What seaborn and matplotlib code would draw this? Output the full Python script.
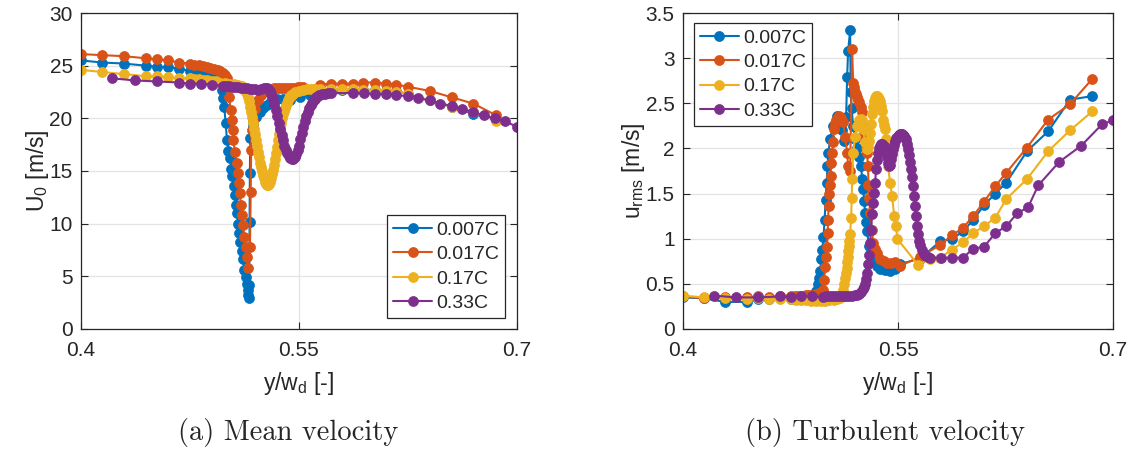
import matplotlib

matplotlib.use("Agg")
import matplotlib.font_manager as fm
import matplotlib.pyplot as plt
import seaborn as sns

# keep the regular Liberation Sans (drop the Narrow cut so it is not picked)
fm.fontManager.ttflist = [f for f in fm.fontManager.ttflist if "Narrow" not in f.fname]

sns.set_style("ticks")
plt.rcParams["font.family"] = ["Liberation Sans", "DejaVu Sans"]
plt.rcParams["mathtext.fontset"] = "custom"
plt.rcParams["mathtext.rm"] = "Liberation Sans"
plt.rcParams["mathtext.it"] = "Liberation Sans:italic"

labels = ["0.007C", "0.017C", "0.17C", "0.33C"]
colors = ["#0072BD", "#D95319", "#EDB120", "#7E2F8E"]

# ---- (a) mean velocity U0 [m/s] ----
u0_x_007 = [0.400, 0.4145, 0.4296, 0.4447, 0.4523, 0.4599, 0.4675, 0.4750, 0.4780, 0.4805,
            0.4830, 0.4855, 0.4880, 0.4905, 0.4930, 0.4950, 0.4962, 0.4970, 0.4978, 0.4986,
            0.4995, 0.5005, 0.5015, 0.5025, 0.5035, 0.5042, 0.5050, 0.5058, 0.5066, 0.5073,
            0.5080, 0.5088, 0.5096, 0.5105, 0.5115, 0.5125, 0.5135, 0.5145, 0.5150, 0.5152,
            0.5154, 0.5158, 0.5160, 0.5162, 0.5165, 0.5183, 0.5205, 0.5232, 0.5255, 0.5280,
            0.5310, 0.5349, 0.5390, 0.5438, 0.5507, 0.5576, 0.5645, 0.5720, 0.5796, 0.5870,
            0.5940, 0.6020, 0.6100, 0.6170, 0.6250, 0.6400, 0.6550, 0.6700, 0.6855]
u0_007 = [25.5, 25.3, 25.2, 25.0, 24.9, 24.85, 24.7, 24.5, 24.4, 24.3,
          24.2, 24.1, 24.0, 23.9, 23.8, 23.7, 23.4, 22.7, 21.9, 21.1,
          19.6, 17.9, 16.9, 16.2, 15.2, 14.5, 13.6, 12.7, 11.8, 11.0,
          10.0, 9.1, 8.3, 7.4, 6.6, 5.6, 4.9, 4.3, 3.7, 3.2,
          2.9, 4.2, 10.2, 14.8, 18.1, 19.4, 20.1, 20.6, 21.0, 21.3,
          21.6, 21.8, 21.8, 21.7, 22.0, 22.2, 22.5, 22.6, 22.7, 22.7,
          22.7, 22.7, 22.6, 22.6, 22.3, 21.7, 21.1, 20.4, 19.9]

u0_x_017 = [0.400, 0.4145, 0.4296, 0.4447, 0.4523, 0.4599, 0.4675, 0.4750, 0.4780, 0.4810,
            0.4840, 0.4865, 0.4890, 0.4915, 0.4940, 0.4960, 0.4978, 0.4992, 0.5004, 0.5012,
            0.5020, 0.5030, 0.5037, 0.5044, 0.5048, 0.5060, 0.5071, 0.5082, 0.5089, 0.5094,
            0.5099, 0.5106, 0.5113, 0.5124, 0.5135, 0.5140, 0.5151, 0.5163, 0.5168, 0.5171,
            0.5174, 0.5186, 0.5200, 0.5220, 0.5240, 0.5260, 0.5278, 0.5295, 0.5310, 0.5330,
            0.5350, 0.5370, 0.5390, 0.5410, 0.5430, 0.5450, 0.5470, 0.5490, 0.5510, 0.5530,
            0.5645, 0.5720, 0.5796, 0.5870, 0.5940, 0.6020, 0.6100, 0.6170, 0.6250, 0.6400,
            0.6550, 0.6700, 0.6855]
u0_017 = [26.1, 26.0, 25.9, 25.7, 25.6, 25.5, 25.3, 25.2, 25.1, 25.05,
          25.0, 24.9, 24.8, 24.7, 24.6, 24.45, 24.3, 24.1, 23.8, 23.0,
          22.0, 20.8, 19.8, 18.9, 17.9, 16.8, 15.8, 14.8, 13.9, 12.9,
          11.8, 10.8, 9.9, 8.7, 7.8, 6.8, 5.8, 7.8, 13.0, 17.0,
          18.9, 19.8, 20.9, 21.7, 22.2, 22.5, 22.7, 22.75, 22.8, 22.85,
          22.85, 22.9, 22.9, 22.9, 22.9, 22.9, 22.9, 22.95, 22.95, 23.0,
          23.2, 23.3, 23.3, 23.3, 23.4, 23.4, 23.3, 23.2, 23.0, 22.6,
          22.0, 21.4, 20.3]

u0_x_17 = [0.400, 0.4145, 0.4296, 0.4447, 0.4523, 0.4599, 0.4675, 0.4750, 0.4780, 0.4810,
           0.4840, 0.4870, 0.4900, 0.4930, 0.4960, 0.4990, 0.5020, 0.5050, 0.5080, 0.5105,
           0.5122, 0.5129, 0.5136, 0.5143, 0.5150, 0.5156, 0.5163, 0.5170, 0.5177, 0.5184,
           0.5190, 0.5197, 0.5204, 0.5211, 0.5218, 0.5225, 0.5232, 0.5239, 0.5246, 0.5252,
           0.5259, 0.5266, 0.5273, 0.5280, 0.5287, 0.5294, 0.5300, 0.5307, 0.5314, 0.5321,
           0.5328, 0.5335, 0.5342, 0.5348, 0.5355, 0.5362, 0.5369, 0.5376, 0.5383, 0.5390,
           0.5397, 0.5403, 0.5410, 0.5417, 0.5424, 0.5431, 0.5438, 0.5445, 0.5458, 0.5472,
           0.5500, 0.5527, 0.5555, 0.5583, 0.5610, 0.5645, 0.5720, 0.5796, 0.5870, 0.5940,
           0.6020, 0.6100, 0.6170, 0.6250, 0.6400, 0.6550, 0.6700, 0.6855]
u0_17 = [24.6, 24.4, 24.2, 24.0, 24.0, 23.9, 23.8, 23.8, 23.7, 23.7,
         23.6, 23.6, 23.5, 23.5, 23.4, 23.4, 23.3, 23.3, 23.2, 23.1,
         22.9, 22.7, 22.5, 22.3, 22.0, 21.6, 21.1, 20.6, 20.1, 19.6,
         19.0, 18.5, 17.9, 17.4, 16.8, 16.3, 15.8, 15.4, 15.0, 14.6,
         14.3, 14.0, 13.8, 13.7, 13.7, 13.8, 14.0, 14.3, 14.7, 15.1,
         15.6, 16.1, 16.7, 17.3, 17.9, 18.5, 19.1, 19.6, 20.0, 20.4,
         20.7, 21.0, 21.3, 21.5, 21.7, 21.9, 22.05, 22.2, 22.35, 22.5,
         22.6, 22.7, 22.75, 22.8, 22.8, 22.8, 22.8, 22.8, 22.75, 22.7,
         22.7, 22.6, 22.5, 22.3, 21.7, 21.1, 20.6, 19.75]

u0_x_33 = [0.4213, 0.4370, 0.4523, 0.4675, 0.4750, 0.4826, 0.4900, 0.4978, 0.5000, 0.5020,
           0.5040, 0.5060, 0.5080, 0.5100, 0.5120, 0.5140, 0.5160, 0.5180, 0.5200, 0.5220,
           0.5240, 0.5260, 0.5270, 0.5280, 0.5290, 0.5300, 0.5310, 0.5320, 0.5330, 0.5340,
           0.5350, 0.5360, 0.5370, 0.5380, 0.5390, 0.5400, 0.5410, 0.5420, 0.5430, 0.5440,
           0.5450, 0.5460, 0.5470, 0.5480, 0.5490, 0.5500, 0.5510, 0.5520, 0.5530, 0.5540,
           0.5550, 0.5560, 0.5570, 0.5580, 0.5590, 0.5600, 0.5610, 0.5620, 0.5630, 0.5640,
           0.5660, 0.5680, 0.5700, 0.5720, 0.5870, 0.5950, 0.6020, 0.6100, 0.6170, 0.6250,
           0.6320, 0.6400, 0.6470, 0.6550, 0.6620, 0.6700, 0.6770, 0.6850, 0.6920, 0.7000]
u0_33 = [23.8, 23.6, 23.5, 23.4, 23.3, 23.3, 23.2, 23.1, 23.1, 23.05,
         23.0, 23.0, 22.95, 22.9, 22.9, 22.85, 22.8, 22.8, 22.75, 22.7,
         22.75, 22.85, 22.9, 22.9, 22.8, 22.6, 22.3, 21.9, 21.4, 20.8,
         20.2, 19.6, 19.0, 18.4, 17.9, 17.4, 17.0, 16.7, 16.4, 16.2,
         16.1, 16.15, 16.3, 16.6, 17.0, 17.4, 18.0, 18.6, 19.2, 19.7,
         20.2, 20.6, 21.0, 21.3, 21.5, 21.7, 21.85, 22.0, 22.1, 22.2,
         22.3, 22.35, 22.4, 22.4, 22.4, 22.4, 22.3, 22.3, 22.2, 22.1,
         21.9, 21.7, 21.4, 21.2, 20.9, 20.6, 20.3, 20.0, 19.7, 19.2]

# ---- (b) turbulent velocity u_rms [m/s] ----
urms_x_007 = [0.400, 0.4145, 0.4296, 0.4447, 0.4523, 0.4599, 0.4675, 0.4750, 0.4780, 0.4805,
              0.4830, 0.4855, 0.4880, 0.4900, 0.4915, 0.4928, 0.4940, 0.4950, 0.4957, 0.4965,
              0.4972, 0.4980, 0.4988, 0.4995, 0.5002, 0.5008, 0.5014, 0.5026, 0.5047, 0.5075,
              0.5096, 0.5110, 0.5124, 0.5138, 0.5145, 0.5152, 0.5166, 0.5170, 0.5176, 0.5187,
              0.5201, 0.5215, 0.5229, 0.5243, 0.5250, 0.5257, 0.5264, 0.5270, 0.5277, 0.5284,
              0.5298, 0.5312, 0.5326, 0.5350, 0.5375, 0.5410, 0.5445, 0.5480, 0.5515, 0.5654,
              0.5794, 0.5878, 0.5954, 0.6024, 0.6100, 0.6178, 0.6255, 0.6400, 0.6548, 0.6700,
              0.6855]
urms_007 = [0.35, 0.34, 0.30, 0.30, 0.33, 0.33, 0.34, 0.33, 0.33, 0.33,
            0.34, 0.34, 0.35, 0.36, 0.38, 0.42, 0.50, 0.57, 0.64, 0.77,
            0.88, 1.02, 1.21, 1.43, 1.62, 1.80, 1.95, 2.10, 2.25, 2.36,
            2.33, 2.20, 2.08, 2.35, 2.79, 3.08, 3.31, 2.62, 2.45, 2.25,
            2.10, 2.00, 1.90, 1.80, 1.66, 1.55, 1.42, 1.29, 1.18, 1.08,
            0.92, 0.82, 0.75, 0.70, 0.67, 0.65, 0.64, 0.66, 0.72, 0.78,
            0.97, 1.00, 1.08, 1.21, 1.37, 1.50, 1.62, 1.97, 2.19, 2.54,
            2.58]

urms_x_017 = [0.400, 0.4145, 0.4296, 0.4447, 0.4523, 0.4599, 0.4675, 0.4750, 0.4780, 0.4805,
              0.4830, 0.4855, 0.4880, 0.4905, 0.4930, 0.4950, 0.4965, 0.4977, 0.4984, 0.4991,
              0.4998, 0.5005, 0.5009, 0.5012, 0.5016, 0.5019, 0.5026, 0.5030, 0.5033, 0.5040,
              0.5047, 0.5054, 0.5061, 0.5068, 0.5078, 0.5089, 0.5103, 0.5117, 0.5131, 0.5145,
              0.5152, 0.5166, 0.5180, 0.5187, 0.5194, 0.5201, 0.5208, 0.5215, 0.5222, 0.5229,
              0.5240, 0.5250, 0.5257, 0.5264, 0.5270, 0.5277, 0.5284, 0.5291, 0.5294, 0.5298,
              0.5305, 0.5319, 0.5326, 0.5340, 0.5354, 0.5375, 0.5400, 0.5424, 0.5450, 0.5480,
              0.5515, 0.5654, 0.5794, 0.5878, 0.5954, 0.6024, 0.6100, 0.6178, 0.6255, 0.6400,
              0.6548, 0.6700, 0.6855]
urms_017 = [0.36, 0.34, 0.35, 0.35, 0.36, 0.35, 0.37, 0.37, 0.37, 0.37,
            0.37, 0.38, 0.38, 0.38, 0.39, 0.40, 0.41, 0.43, 0.54, 0.69,
            0.80, 0.91, 1.06, 1.21, 1.36, 1.49, 1.60, 1.69, 1.84, 1.95,
            2.07, 2.21, 2.28, 2.32, 2.35, 2.36, 2.34, 2.29, 2.13, 1.95,
            1.80, 1.75, 3.10, 2.73, 2.68, 2.63, 2.60, 2.57, 2.54, 2.51,
            2.46, 2.40, 2.25, 2.18, 2.10, 2.02, 1.95, 1.80, 1.60, 1.45,
            1.29, 1.10, 0.95, 0.89, 0.84, 0.77, 0.75, 0.73, 0.73, 0.74,
            0.70, 0.80, 0.93, 1.04, 1.12, 1.25, 1.41, 1.58, 1.73, 2.01,
            2.32, 2.49, 2.77]

urms_x_17 = [0.400, 0.4145, 0.4296, 0.4447, 0.4523, 0.4599, 0.4675, 0.4750, 0.4785, 0.4820,
             0.4855, 0.4890, 0.4925, 0.4960, 0.4990, 0.5020, 0.5050, 0.5075, 0.5095, 0.5110,
             0.5117, 0.5124, 0.5131, 0.5136, 0.5141, 0.5145, 0.5149, 0.5153, 0.5157, 0.5161,
             0.5166, 0.5173, 0.5177, 0.5180, 0.5187, 0.5201, 0.5215, 0.5229, 0.5240, 0.5250,
             0.5257, 0.5270, 0.5284, 0.5291, 0.5298, 0.5305, 0.5312, 0.5319, 0.5326, 0.5333,
             0.5340, 0.5347, 0.5354, 0.5361, 0.5368, 0.5375, 0.5382, 0.5389, 0.5396, 0.5403,
             0.5410, 0.5417, 0.5424, 0.5431, 0.5445, 0.5459, 0.5473, 0.5487, 0.5494, 0.5640,
             0.5724, 0.5794, 0.5878, 0.5954, 0.6024, 0.6100, 0.6178, 0.6255, 0.6400, 0.6548,
             0.6700, 0.6855]
urms_17 = [0.37, 0.35, 0.34, 0.33, 0.34, 0.33, 0.33, 0.33, 0.32, 0.32,
           0.32, 0.31, 0.31, 0.31, 0.31, 0.32, 0.32, 0.33, 0.34, 0.37,
           0.43, 0.50, 0.56, 0.62, 0.68, 0.74, 0.80, 0.86, 0.92, 0.98,
           1.05, 1.23, 1.45, 1.66, 1.95, 2.13, 2.25, 2.32, 2.33, 2.32,
           2.21, 2.07, 1.99, 2.02, 2.08, 2.17, 2.27, 2.38, 2.46, 2.52,
           2.56, 2.58, 2.58, 2.57, 2.55, 2.52, 2.47, 2.41, 2.32, 2.26,
           2.21, 2.10, 1.95, 1.80, 1.62, 1.47, 1.25, 1.14, 1.00, 0.71,
           0.78, 0.79, 0.88, 0.96, 1.06, 1.14, 1.23, 1.44, 1.66, 1.97,
           2.20, 2.41]

urms_x_33 = [0.4213, 0.4370, 0.4523, 0.4675, 0.4750, 0.4826, 0.4900, 0.4978, 0.5000, 0.5020,
             0.5040, 0.5060, 0.5080, 0.5100, 0.5120, 0.5140, 0.5160, 0.5180, 0.5200, 0.5215,
             0.5230, 0.5245, 0.5256, 0.5263, 0.5270, 0.5277, 0.5284, 0.5291, 0.5298, 0.5305,
             0.5312, 0.5319, 0.5326, 0.5333, 0.5340, 0.5347, 0.5354, 0.5361, 0.5368, 0.5375,
             0.5382, 0.5389, 0.5396, 0.5403, 0.5410, 0.5417, 0.5424, 0.5431, 0.5438, 0.5445,
             0.5452, 0.5459, 0.5466, 0.5473, 0.5480, 0.5487, 0.5494, 0.5501, 0.5508, 0.5515,
             0.5522, 0.5529, 0.5536, 0.5543, 0.5550, 0.5557, 0.5564, 0.5571, 0.5578, 0.5585,
             0.5592, 0.5599, 0.5606, 0.5613, 0.5620, 0.5627, 0.5634, 0.5640, 0.5647, 0.5654,
             0.5668, 0.5682, 0.5696, 0.5710, 0.5724, 0.5800, 0.5878, 0.5954, 0.6024, 0.6100,
             0.6178, 0.6255, 0.6331, 0.6408, 0.6478, 0.6624, 0.6778, 0.6925, 0.7000]
urms_33 = [0.37, 0.35, 0.35, 0.36, 0.35, 0.37, 0.36, 0.35, 0.36, 0.36,
           0.36, 0.36, 0.36, 0.36, 0.36, 0.36, 0.37, 0.37, 0.38, 0.38,
           0.39, 0.41, 0.44, 0.46, 0.50, 0.55, 0.62, 0.72, 0.82, 0.95,
           1.10, 1.27, 1.40, 1.51, 1.62, 1.77, 1.87, 1.95, 2.00, 2.03,
           2.05, 2.05, 2.04, 2.03, 2.01, 1.96, 1.90, 1.84, 1.80, 1.82,
           1.88, 1.94, 1.99, 2.04, 2.08, 2.11, 2.12, 2.14, 2.15, 2.16,
           2.16, 2.16, 2.15, 2.14, 2.12, 2.10, 2.05, 1.99, 1.93, 1.85,
           1.77, 1.68, 1.58, 1.47, 1.36, 1.25, 1.14, 1.05, 0.98, 0.93,
           0.87, 0.83, 0.81, 0.80, 0.79, 0.79, 0.79, 0.79, 0.89, 0.91,
           1.06, 1.14, 1.28, 1.35, 1.59, 1.85, 2.03, 2.27, 2.31]

x_ticks = [0.4, 0.55, 0.7]
x_tick_labels = ["0.4", "0.55", "0.7"]
u0_ticks = [0, 5, 10, 15, 20, 25, 30]
urms_ticks = [0, 0.5, 1, 1.5, 2, 2.5, 3, 3.5]
urms_tick_labels = ["0", "0.5", "1", "1.5", "2", "2.5", "3", "3.5"]


def draw_series(ax, x, y, color, label):
    sns.lineplot(x=x, y=y, ax=ax, color=color, label=label, sort=False,
                 estimator=None, marker="o", markersize=7.2, markeredgecolor=color,
                 markeredgewidth=0.5, linewidth=1.5)


def style_axes(ax):
    ax.set_xlim(0.4, 0.7)
    ax.set_xticks(x_ticks)
    ax.set_xticklabels(x_tick_labels)
    ax.grid(True, color="#e3e3e3", linewidth=0.9)
    ax.set_axisbelow(True)
    ax.tick_params(direction="in", top=True, right=True, length=5, width=0.8,
                   labelsize=15, pad=6, color="#262626", labelcolor="#262626")
    ax.tick_params(axis="x", pad=9)
    for sp in ax.spines.values():
        sp.set_visible(True)
        sp.set_color("#262626")
        sp.set_linewidth(0.9)
    ax.set_xlabel(r"y/w$_\mathrm{d}$ [-]", fontsize=16.5, color="#262626", labelpad=7)


fig = plt.figure(figsize=(11.34, 4.5), dpi=100)
ax1 = fig.add_axes([0.0714, 0.2689, 0.3845, 0.7022])
ax2 = fig.add_axes([0.6023, 0.2689, 0.3792, 0.7022])

u0_data = [(u0_x_007, u0_007), (u0_x_017, u0_017), (u0_x_17, u0_17), (u0_x_33, u0_33)]
urms_data = [(urms_x_007, urms_007), (urms_x_017, urms_017), (urms_x_17, urms_17), (urms_x_33, urms_33)]

for (x, y), c, lab in zip(u0_data, colors, labels):
    draw_series(ax1, x, y, c, lab)
for (x, y), c, lab in zip(urms_data, colors, labels):
    draw_series(ax2, x, y, c, lab)

style_axes(ax1)
ax1.set_ylim(0, 30)
ax1.set_yticks(u0_ticks)
ax1.set_ylabel(r"U$_\mathrm{0}$ [m/s]", fontsize=16.5, color="#262626", labelpad=-1)

style_axes(ax2)
ax2.set_ylim(0, 3.5)
ax2.set_yticks(urms_ticks)
ax2.set_yticklabels(urms_tick_labels)
ax2.set_ylabel(r"u$_\mathrm{rms}$ [m/s]", fontsize=16.5, color="#262626", labelpad=-1)

leg_kw = dict(fontsize=14, frameon=True, fancybox=False, framealpha=1,
              edgecolor="#262626", borderaxespad=0, handlelength=2.0,
              handletextpad=0.2, labelspacing=0.35, borderpad=0.3)
leg1 = ax1.legend(loc="lower right", bbox_to_anchor=(0.972, 0.035), **leg_kw)
leg2 = ax2.legend(loc="upper left", bbox_to_anchor=(0.026, 0.968), **leg_kw)
for leg in (leg1, leg2):
    leg.get_frame().set_linewidth(0.9)

fig.text(0.254, 0.038, "(a) Mean velocity", ha="center", va="center",
         family=["cmr10", "DejaVu Serif"], fontsize=20.5)
fig.text(0.7805, 0.038, "(b) Turbulent velocity", ha="center", va="center",
         family=["cmr10", "DejaVu Serif"], fontsize=20.5)

fig.savefig("out.png", dpi=100)
